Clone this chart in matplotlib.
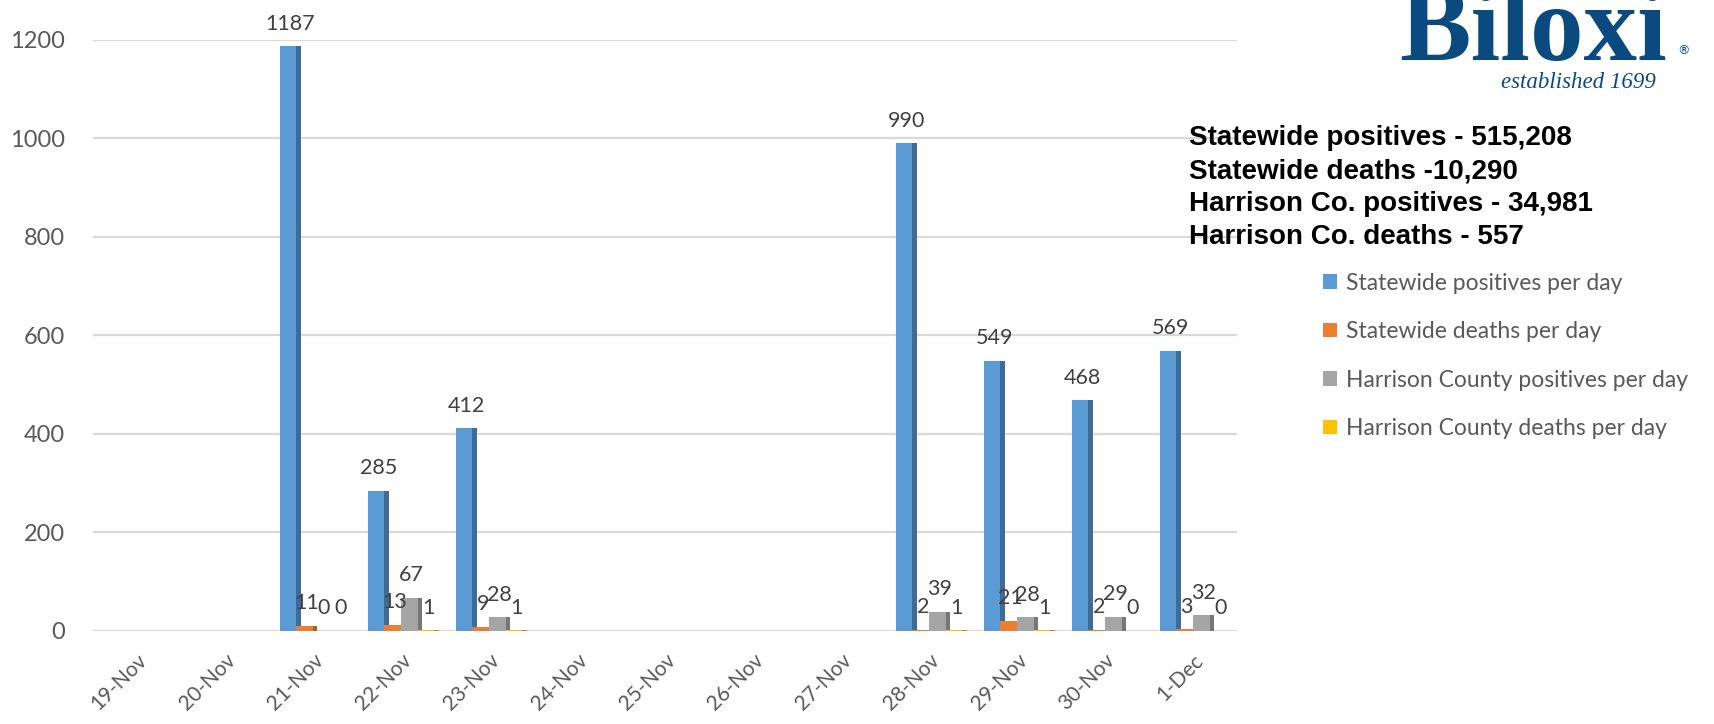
import numpy as np
import matplotlib
matplotlib.use("Agg")
import matplotlib.pyplot as plt
from matplotlib.patches import Patch

nan = np.nan

dates = ["19-Nov", "20-Nov", "21-Nov", "22-Nov", "23-Nov", "24-Nov", "25-Nov",
         "26-Nov", "27-Nov", "28-Nov", "29-Nov", "30-Nov", "1-Dec"]

state_pos = [nan, nan, 1187, 285, 412, nan, nan, nan, nan, 990, 549, 468, 569]
state_deaths = [nan, nan, 11, 13, 9, nan, nan, nan, nan, 2, 21, 2, 3]
harrison_pos = [nan, nan, 0, 67, 28, nan, nan, nan, nan, 39, 28, 29, 32]
harrison_deaths = [nan, nan, 0, 1, 1, nan, nan, nan, nan, 1, 1, 0, 0]

series_names = ["Statewide positives per day", "Statewide deaths per day",
                "Harrison County positives per day", "Harrison County deaths per day"]
colors = ["#5B9BD5", "#ED7D31", "#A5A5A5", "#FFC000"]
side_colors = ["#3E6C97", "#B05C22", "#767676", "#BF9000"]

stats = ["Statewide positives - 515,208",
         "Statewide deaths -10,290",
         "Harrison Co. positives - 34,981",
         "Harrison Co. deaths - 557"]

plt.rcParams["font.family"] = ["Lato", "DejaVu Sans"]
text_col = "#595959"

fig = plt.figure(figsize=(17.14, 7.24), dpi=100)
ax = fig.add_axes([0.0543, 0.1285, 0.6674, 0.8163])

x = np.arange(len(dates))
w = 0.19
depth = 0.05
all_series = [state_pos, state_deaths, harrison_pos, harrison_deaths]

for i, vals in enumerate(all_series):
    vals = np.array(vals, dtype=float)
    pos = x + (i - 1.5) * w
    ax.bar(pos, vals, width=w, color=colors[i], zorder=3)
    # darker side face for the Excel 3D look
    ax.bar(pos + w / 2, vals, width=depth, align="edge", color=side_colors[i], zorder=2)
    for px, v in zip(pos, vals):
        if np.isnan(v):
            continue
        ax.annotate(f"{int(v)}", (px + depth / 2, v), xytext=(0, 9),
                    textcoords="offset points", ha="center", va="bottom",
                    fontsize=15.5, color="#404040", zorder=5)

ax.set_xlim(-0.5, len(dates) - 0.5)
ax.set_ylim(0, 1200)
ax.set_yticks(range(0, 1201, 200))
ax.yaxis.grid(True, color="#D9D9D9", linewidth=1.6, zorder=0)
ax.set_axisbelow(True)
for s in ax.spines.values():
    s.set_visible(False)
ax.tick_params(axis="both", length=0, colors=text_col)
ax.tick_params(axis="y", pad=20, labelsize=17)
ax.tick_params(axis="x", pad=14, labelsize=15)
ax.set_xticks(x)
ax.set_xticklabels(dates, rotation=45, ha="right", va="top", rotation_mode="anchor")

# logo
fig.text(0.8163, 0.917, "Biloxi", fontsize=77, fontweight="bold", color="#0B4A7F",
         family="Liberation Serif", ha="left", va="baseline")
fig.text(0.9785, 0.925, "®", fontsize=9, color="#0B4A7F", family="DejaVu Sans",
         ha="left", va="baseline")
fig.text(0.966, 0.878, "established 1699", fontsize=16.5, style="italic", color="#0B4A7F",
         family="Liberation Serif", ha="right", va="baseline")

# running totals
ys = [0.7997, 0.7541, 0.7086, 0.6630]
for y, s in zip(ys, stats):
    fig.text(0.6935, y, s, fontsize=20, fontweight="bold", color="black",
             family="Liberation Sans", ha="left", va="baseline")

handles = [Patch(facecolor=c) for c in colors]
fig.legend(handles, series_names, loc="upper left", bbox_to_anchor=(0.760, 0.652),
           frameon=False, fontsize=16.5, labelcolor=text_col, handlelength=0.6,
           handleheight=0.6, handletextpad=0.4, labelspacing=1.2)

fig.savefig("out.png", dpi=100)
